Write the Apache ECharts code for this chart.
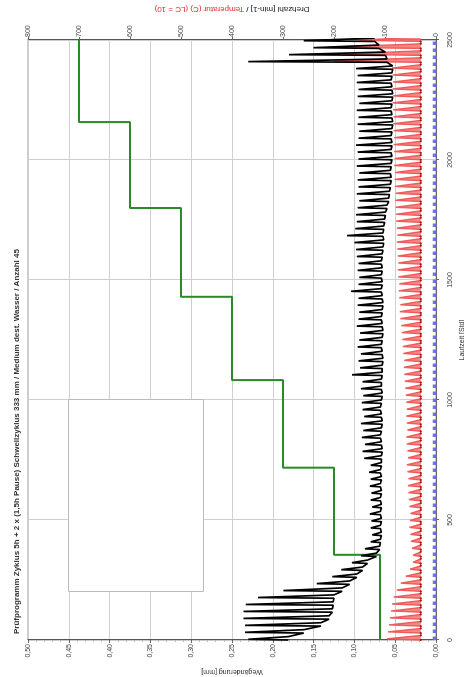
<!DOCTYPE html>
<html><head><meta charset="utf-8">
<script src="https://cdn.jsdelivr.net/npm/echarts@6/dist/echarts.min.js"></script>
<style>
html,body{margin:0;padding:0;width:464px;height:677px;overflow:hidden;background:#fff;}
#chart{position:absolute;left:0;top:0;width:677px;height:464px;transform-origin:0 0;transform:translate(0,677px) rotate(-90deg);}
</style></head><body><div id="chart"></div>
<script>
// cycle start times [h]
const cycleStart = [0,29,58,87,116,145,174,203,232,261,290,319,348,377,406,435,464,493,522,551,580,609,638,667,696,725,754,783,812,841,870,899,928,957,986,1015,1044,1073,1102,1131,1160,1189,1218,1247,1276,1305,1334,1363,1392,1421,1450,1479,1508,1537,1566,1595,1624,1653,1682,1711,1740,1769,1798,1827,1856,1885,1914,1943,1972,2001,2030,2059,2088,2117,2146,2175,2204,2233,2262,2291,2320,2349,2378,2407,2436,2465,2494];
// red (right axis) peak per cycle
const redPeak = [96,94,92,90,88,86,83,77,69,59,51,45,45,
  47,49,50,52,51,50,52,53,
  54,55,54,56,57,55,56,57,58,56,57,58,57,58,59,
  60,61,62,63,62,64,65,66,67,68,
  70,71,70,72,73,72,74,75,74,75,76,77,76,77,78,
  78,79,80,79,80,81,80,82,81,82,83,82,83,84,83,84,85,84,85,84,85,86,
  200,185,210,150];
const redBase = 30;
// black (left axis) spike and base per cycle
const blackPeak = [0.230,0.234,0.234,0.236,0.236,0.233,0.218,0.187,0.146,0.127,0.116,0.103,0.092,0.087,
  0.080,0.078,0.080,0.079,0.081,0.078,0.080,0.079,0.081,0.080,0.082,0.080,
  0.088,0.090,0.087,0.091,0.089,0.092,0.088,0.090,0.091,0.089,0.092,0.090,0.103,
  0.093,0.095,0.092,0.096,0.094,0.093,0.097,0.095,0.094,0.096,0.095,
  0.104,0.095,0.094,0.096,0.095,0.097,
  0.098,0.100,0.109,0.099,0.097,0.098,
  0.096,0.094,0.097,0.095,0.096,0.094,0.097,0.095,0.096,0.098,0.095,0.094,0.096,0.095,0.097,0.094,0.096,0.095,0.097,0.096,0.098,
  0.230,0.180,0.150,0.162];
const blackBase = [0.181,0.162,0.141,0.131,0.127,0.126,0.125,0.115,0.106,0.097,0.090,0.084,0.073,0.069,
  0.068,0.067,0.068,0.067,0.068,0.067,0.068,0.067,0.068,0.067,0.068,0.067,
  0.067,0.066,0.067,0.068,0.067,0.066,0.067,0.068,0.067,0.066,0.067,0.067,0.066,
  0.066,0.065,0.066,0.067,0.066,0.065,0.066,0.067,0.066,0.065,0.066,
  0.067,0.066,0.067,0.066,0.067,0.066,
  0.065,0.064,0.065,0.064,0.063,0.062,
  0.060,0.058,0.057,0.056,0.055,0.056,0.055,0.054,0.055,0.054,0.055,0.054,0.053,0.054,0.055,0.054,0.053,0.054,0.055,0.054,0.053,
  0.060,0.062,0.070,0.075];
// pulse shape within a cycle [h after cycle start]: rise end, hold end, fall end
const redPulse = [5, 12, 19];
const blackPulse = [3, 10, 14];
// green step (right axis)
const stepTimes = [0,355,718,1083,1430,1800,2158,2500];
const stepLevels = [110,200,300,400,500,600,700,700];
// blue (right axis)
const blueTimes = [0,500,1000,1500,2000,2500];
const blueValues = [3,3,3,3,3,3];

const redData = [], blackData = [];
cycleStart.forEach((t, i) => {
  redData.push({value:[t, redBase]});
  redData.push({value:[t + redPulse[0], redPeak[i]], symbol:'none'});
  redData.push({value:[t + redPulse[1], redPeak[i]], symbol:'none'});
  redData.push({value:[t + redPulse[2], redBase]});
  blackData.push([t, blackBase[i]]);
  blackData.push([t + blackPulse[0], blackPeak[i]]);
  blackData.push([t + blackPulse[1], blackPeak[i]]);
  blackData.push([t + blackPulse[2], blackBase[i]]);
});
const greenData = stepTimes.map((t, i) => [t, stepLevels[i]]);
const blueData = blueTimes.map((t, i) => [t, blueValues[i]]);

const FONT = '"Liberation Sans", Arial, sans-serif';
const chart = echarts.init(document.getElementById('chart'), null, {renderer:'canvas'});
chart.setOption({
  animation:false,
  backgroundColor:'#fff',
  textStyle:{fontFamily:FONT},
  title:{
    text:'Prüfprogramm Zyklus 5h + 2 x (1,5h Pause) Schwellzyklus 333 mm / Medium dest. Wasser / Anzahl 45',
    left:38, top:8,
    textStyle:{fontSize:8, fontWeight:'bold', color:'#333', fontFamily:FONT}
  },
  grid:{left:37, right:40, top:28, bottom:28, show:true, borderColor:'#999', borderWidth:1,
    containLabel:false, outerBoundsMode:'none'},
  graphic:[{type:'rect', left:85, top:68, shape:{width:192, height:135},
    style:{fill:'#fff', stroke:'#bbb', lineWidth:1}, z:50}],
  xAxis:{
    type:'value', min:0, max:2500, interval:500,
    name:'Laufzeit [Std]', nameLocation:'middle', nameGap:19,
    nameTextStyle:{fontSize:7, color:'#333'},
    axisLine:{show:true, lineStyle:{color:'#666'}},
    axisTick:{show:true, length:3, lineStyle:{color:'#666'}},
    axisLabel:{fontSize:7, color:'#444', margin:11, formatter:v => String(v)},
    splitLine:{show:true, lineStyle:{color:'#cfcfcf', width:1}}
  },
  yAxis:[{
    type:'value', min:0, max:0.5, interval:0.05, position:'left',
    name:'Wegänderung [mm]', nameLocation:'middle', nameGap:27,
    nameTextStyle:{fontSize:7, color:'#333'},
    axisLine:{show:true, lineStyle:{color:'#555'}},
    axisTick:{show:true, length:3, lineStyle:{color:'#666'}},
    minorTick:{show:true, splitNumber:5, length:2, lineStyle:{color:'#bbb'}},
    axisLabel:{fontSize:7, color:'#444', margin:4, formatter:v => v.toFixed(2).replace('.', ',')},
    splitLine:{show:true, lineStyle:{color:'#cfcfcf', width:1}}
  },{
    type:'value', min:0, max:800, interval:100, position:'right',
    name:'{a|Drehzahl [min-1] / }{b|Temperatur (C) (LC = 10)}', nameLocation:'middle', nameGap:27,
    nameTextStyle:{fontSize:8, rich:{a:{color:'#222', fontSize:8}, b:{color:'#e03030', fontSize:8}}},
    axisLine:{show:true, lineStyle:{color:'#555'}},
    axisTick:{show:true, length:3, lineStyle:{color:'#666'}},
    axisLabel:{fontSize:7, color:'#444', margin:3, formatter:v => String(v)},
    splitLine:{show:false}
  }],
  series:[
    {type:'line', name:'Temperatur', yAxisIndex:1, data:redData,
      showSymbol:true, symbol:'circle', symbolSize:2, itemStyle:{color:'#a01010'},
      lineStyle:{color:'#f05a5a', width:1.4},
      areaStyle:{origin:redBase, color:'#f47070', opacity:0.85}, z:2},
    {type:'line', name:'Blau', yAxisIndex:1, data:blueData, showSymbol:false,
      lineStyle:{color:'#6f6ff5', width:3.5, type:'dotted'}, z:3},
    {type:'line', name:'Drehzahl', yAxisIndex:1, data:greenData, step:'end', showSymbol:false,
      lineStyle:{color:'#2a8a2a', width:2}, z:4},
    {type:'line', name:'Weg', yAxisIndex:0, data:blackData, showSymbol:false,
      lineStyle:{color:'#000', width:1.7}, z:5}
  ]
});
</script></body></html>
